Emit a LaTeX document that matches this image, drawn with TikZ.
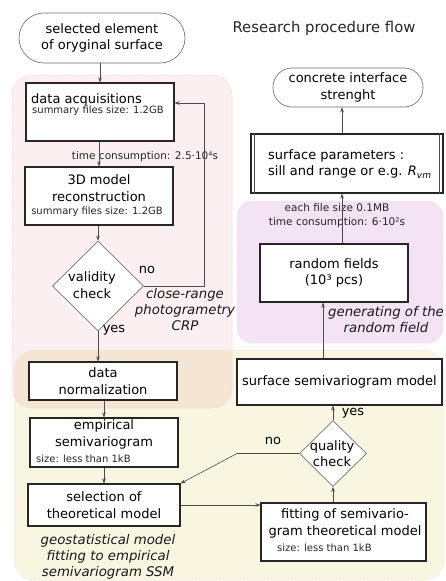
\documentclass[tikz,border=0pt]{standalone}
\usepackage{fontspec}
\setmainfont{DejaVu Sans}
\usetikzlibrary{shapes.geometric,arrows.meta,calc}
\definecolor{pinkbg}{HTML}{FBEFF1}
\definecolor{purplebg}{HTML}{F3E3F4}
\definecolor{beigebg}{HTML}{F8F5E1}
\definecolor{overbg}{HTML}{F5E6D3}
\definecolor{regline}{HTML}{E2DCDC}
\newcommand\FMain{\fontsize{13}{16.5}\selectfont}
\newcommand\FSmall{\fontsize{10}{12}\selectfont}
\newcommand\FMid{\fontsize{10.5}{14}\selectfont}
\newcommand\FTitle{\fontsize{14.8}{17}\selectfont}
\newcommand\FIt{\fontsize{13.3}{16}\selectfont\itshape}
\begin{document}
\begin{tikzpicture}[x=1pt,y=-1pt,
  box/.style={draw=black!85, line width=1.1pt, fill=white, inner sep=0pt, font=\FMain, align=center},
  term/.style={draw=black!60, line width=0.6pt, fill=white, inner sep=0pt, font=\FMain, align=center},
  dia/.style={diamond, draw=black!55, line width=0.7pt, fill=white, inner sep=0pt, aspect=1},
  txt/.style={inner sep=0pt, font=\FMain, align=center},
  small/.style={inner sep=0pt, font=\FSmall, text=black!85},
  mid/.style={inner sep=0pt, font=\FMid, text=black!85, align=center},
  itl/.style={inner sep=0pt, font=\FIt, align=center, text=black!90},
  arr/.style={draw=black!70, line width=0.6pt, -{Stealth[length=5pt,width=3.6pt]}},
  region/.style={draw=regline, line width=0.5pt, densely dotted}]
\useasboundingbox (0,0) rectangle (446,581);
\fill[white] (0,0) rectangle (446,581);
% regions
\path[region, fill=beigebg, rounded corners=20pt] (14,350) rectangle (444,580);
\path[region, fill=pinkbg, rounded corners=20pt] (12,75) rectangle (232,408);
\begin{scope}
  \clip[rounded corners=20pt] (12,75) rectangle (232,408);
  \fill[overbg, rounded corners=20pt] (14,350) rectangle (444,580);
\end{scope}
\draw[regline, line width=0.5pt, densely dotted, rounded corners=20pt] (12,75) rectangle (232,408);
\path[region, fill=purplebg, rounded corners=15pt] (237,201) rectangle (443,343);

% title
\node[inner sep=0pt, font=\FTitle, text=black!85] (title) at (324,28) {Research procedure flow};

% left column
\node[term, rounded corners=25pt, minimum width=166, minimum height=50] (start) at (102,38) {selected element\\of oryginal surface};
\node[box, minimum width=148, minimum height=58] (acq) at (100,112) {};
\node[txt, anchor=west] (acqT) at (31,99.5) {data acquisitions};
\node[small, anchor=west] (acqS) at (32,111) {summary files size: 1.2GB};
\node[mid] (tc1) at (145,157) {time consumption: 2.5·10⁴s};
\node[box, minimum width=148, minimum height=58] (rec) at (99,196) {};
\node[txt] (recT) at (99,188) {3D model\\reconstruction};
\node[small] (recS) at (97,212) {summary files size: 1.2GB};
\node[dia, minimum width=91, minimum height=90] (valid) at (98,286) {};
\node[txt] (validT) at (92,285) {validity\\check};
\node[txt] (no1) at (147,270) {no};
\node[txt] (yes1) at (114,330) {yes};
\node[itl] (crp) at (185,310) {close-range\\photogrametry\\CRP};
\node[box, minimum width=148, minimum height=38] (norm) at (103,381) {data\\normalization};
\node[box, minimum width=148, minimum height=49] (emp) at (104,442.5) {};
\node[txt] (empT) at (104,434.5) {empirical\\semivariogram};
\node[small, anchor=west] (empS) at (36,459) {size: less than 1kB};
\node[box, minimum width=152, minimum height=42] (sel) at (104,505) {selection of\\theoretical model};
\node[itl] (geo) at (108,556.5) {geostatistical model\\fitting to empirical\\semivariogram SSM};

% right column
\node[term, rounded corners=19pt, minimum width=150, minimum height=39] (end) at (348,87.5) {concrete interface\\strenght};
\node[box, minimum width=192, minimum height=59] (params) at (347,163.5) {};
\draw[black!70, line width=0.6pt] ($(params.north west)+(4,0)$) -- ($(params.south west)+(4,0)$);
\draw[black!70, line width=0.6pt] ($(params.north east)+(-4,0)$) -- ($(params.south east)+(-4,0)$);
\node[txt, anchor=west, align=left] (paramsT) at (268,164) {surface parameters :\\sill and range or e.g. {\itshape R}\raisebox{-2.5pt}{\fontsize{9}{9}\selectfont\itshape vm}};
\node[mid] (fs) at (337,216) {each file size 0.1MB\\time consumption: 6·10²s};
\node[box, minimum width=148, minimum height=58] (rf) at (334,273) {random fields\\(10³ pcs)};
\node[itl] (gen) at (386,319.5) {generating of the\\random field};
\node[box, minimum width=205, minimum height=46] (surf) at (339.5,382) {surface semivariogram model};
\node[dia, minimum width=67, minimum height=66] (qual) at (333,453.5) {};
\node[txt] (qualT) at (332,453.5) {quality\\check};
\node[txt] (yes2) at (353,413) {yes};
\node[txt] (no2) at (273,441) {no};
\node[box, minimum width=165, minimum height=58] (fit) at (343.5,532) {};
\node[txt] (fitT) at (345,523.5) {fitting of semivario-\\gram theoretical model};
\node[small, anchor=west] (fitS) at (277,548) {size: less than 1kB};

% connectors
\coordinate (fb1) at (204,286);
\coordinate (fb2) at (204,103);
\coordinate (xa) at (323,0);
\coordinate (xb) at (342,0);
\coordinate (nob) at (237,453.5);
\draw[arr] (acq.north |- start.south) -- (acq.north);
\draw[arr] (rec.north |- acq.south) -- (rec.north);
\draw[arr] (valid.north |- rec.south) -- (valid.north);
\draw[arr] (valid.east) -- (fb1) -- (fb2) -- (fb2 -| acq.east);
\draw[arr] (valid.south) -- (valid.south |- norm.north);
\draw[arr] (emp.north |- norm.south) -- (emp.north);
\draw[arr] (emp.south) -- (emp.south |- sel.north);
\draw[arr] (sel.east) -- (sel.east -| fit.west);
\draw[arr] (qual.south |- fit.north) -- (qual.south);
\draw[arr] (qual.north) -- (qual.north |- surf.south);
\draw[arr] (qual.west) -- (nob) -- (sel.north east);
\draw[arr] (surf.north -| xa) -- (rf.south -| xa);
\draw[arr] (rf.north -| xb) -- (params.south -| xb);
\draw[arr] (params.north -| xb) -- (end.south -| xb);
\end{tikzpicture}
\end{document}
